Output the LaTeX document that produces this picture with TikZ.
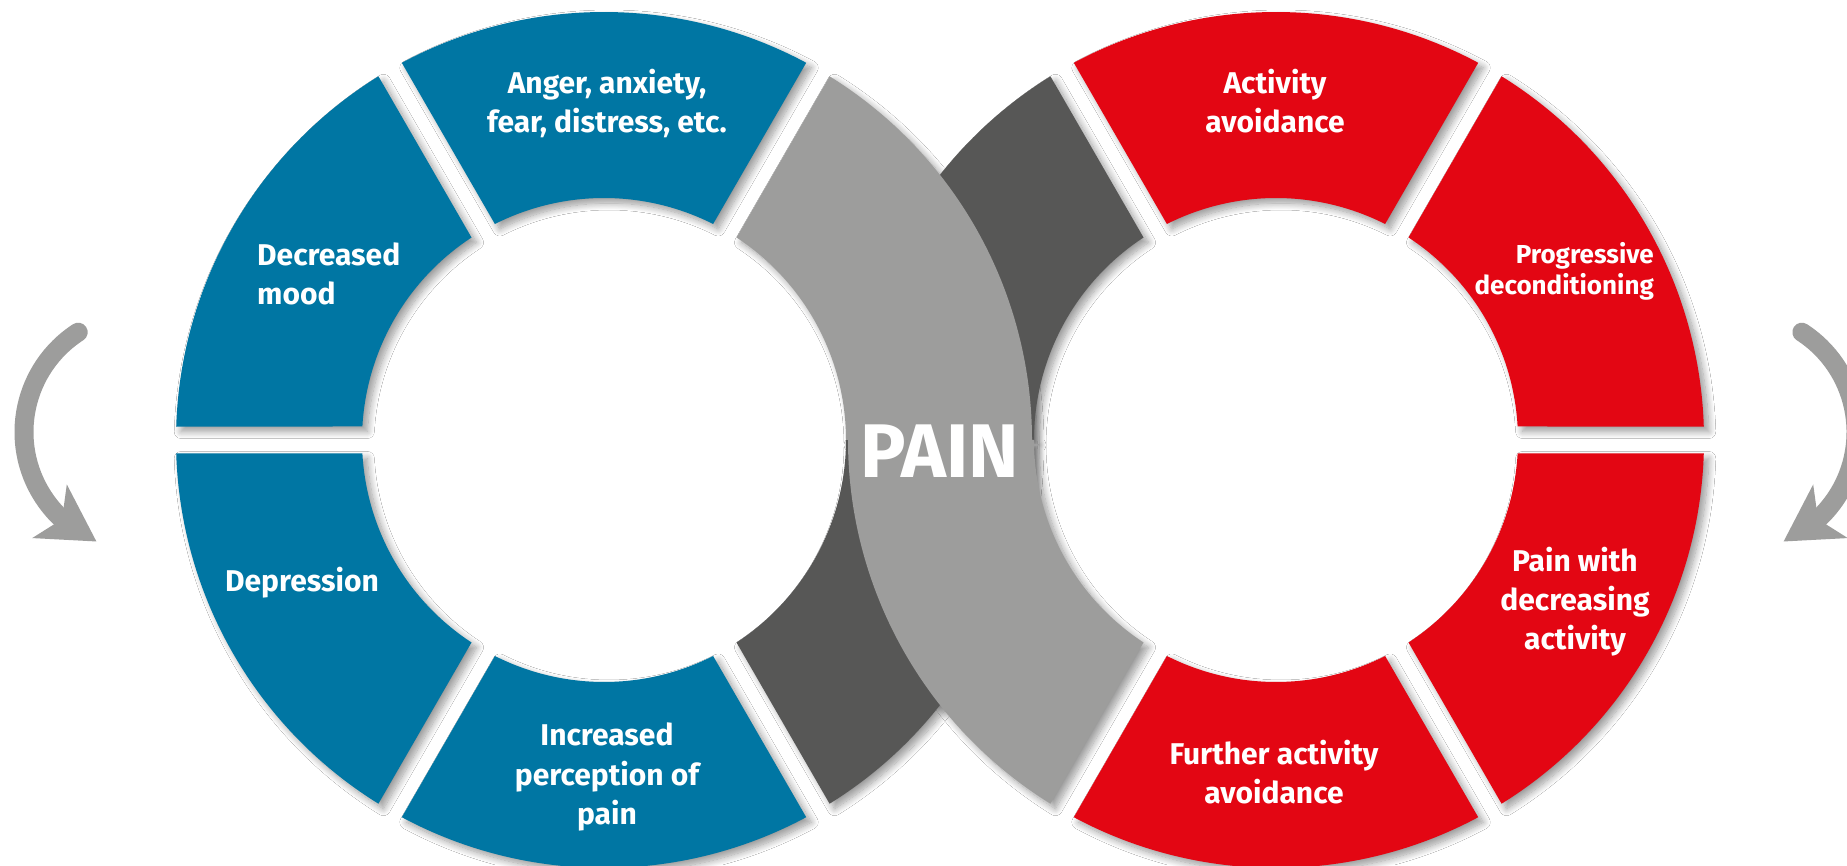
\documentclass[tikz,border=0pt]{standalone}
\usepackage{fontspec}
\setmainfont{Fira Sans}
\usetikzlibrary{arrows.meta,bending,shadows.blur}
\definecolor{pblue}{RGB}{0,118,163}
\definecolor{pred}{RGB}{227,6,19}
\definecolor{lgrey}{RGB}{157,157,156}
\definecolor{dgrey}{RGB}{87,87,86}
\newcommand\Ro{428}
\newcommand\Ri{242}
\newcommand\annseg[5]{([shift={#1}]#2:\Ro) arc[start angle=#2,end angle=#3,radius=\Ro] -- ([shift={#1}]#4:\Ri) arc[start angle=#4,end angle=#5,radius=\Ri] -- cycle}
\newcommand\ml[2]{\begin{tabular}[t]{@{}#1@{}}#2\end{tabular}}
% segment paths
\newcommand\Pdark{\annseg{(1276,425)}{121.8075}{180}{180}{123.198} \annseg{(604,425)}{301.8075}{360}{360}{303.198}}
\newcommand\Plight{\annseg{(604,425)}{0}{58.1925}{56.802}{0} \annseg{(1276,425)}{180}{238.1925}{236.802}{180}}
\newcommand\Panger{\annseg{(604,425)}{61.8075}{118.1925}{116.802}{63.198}}
\newcommand\Pmood{\annseg{(604,425)}{121.8075}{178.1925}{176.802}{123.198}}
\newcommand\Pdepr{\annseg{(604,425)}{181.8075}{238.1925}{236.802}{183.198}}
\newcommand\Pincr{\annseg{(604,425)}{241.8075}{298.1925}{296.802}{243.198}}
\newcommand\Pact{\annseg{(1276,425)}{61.8075}{118.1925}{116.802}{63.198}}
\newcommand\Pprog{\annseg{(1276,425)}{1.8075}{58.1925}{56.802}{3.198}}
\newcommand\Ppwd{\annseg{(1276,425)}{-58.1925}{-1.8075}{-3.198}{-56.802}}
\newcommand\Pfur{\annseg{(1276,425)}{241.8075}{298.1925}{296.802}{243.198}}
\tikzset{
  segshadow/.style={blur shadow={shadow xshift=5pt, shadow yshift=-5pt, shadow blur radius=7pt, shadow blur steps=12, shadow opacity=40}},
  lbl/.style={text=white, font=\bfseries\fontsize{30}{39}\selectfont, inner sep=0pt, anchor=base},
  cycarrow/.style={draw=lgrey, line width=19pt, line cap=round, -{Stealth[length=55pt,width=62pt,inset=14pt]}},
}
\begin{document}
\begin{tikzpicture}[x=1pt,y=1pt]
\useasboundingbox (0,0) rectangle (1847,865);
\fill[white] (0,0) rectangle (1847,865);
% shadows
\path[segshadow] \Pdark;
\path[segshadow] \Plight;
\path[segshadow] \Panger;
\path[segshadow] \Pmood;
\path[segshadow] \Pdepr;
\path[segshadow] \Pincr;
\path[segshadow] \Pact;
\path[segshadow] \Pprog;
\path[segshadow] \Ppwd;
\path[segshadow] \Pfur;
% fills
\fill[dgrey] \Pdark;
\fill[lgrey] \Plight;
\fill[pblue] \Panger;
\fill[pblue] \Pmood;
\fill[pblue] \Pdepr;
\fill[pblue] \Pincr;
\fill[pred] \Pact;
\fill[pred] \Pprog;
\fill[pred] \Ppwd;
\fill[pred] \Pfur;
% arrows
\draw[cycarrow] (143,433) ++(123:119) arc[start angle=123, end angle=247, radius=119];
\draw[cycarrow] (1737,433) ++(57:119) arc[start angle=57, end angle=-67, radius=119];
% labels
\node[lbl] (anger) at (607,771) {\ml{c}{Anger, anxiety,\\fear, distress, etc.}};
\node[lbl, anchor=base west] (mood) at (257,599) {\ml{l}{Decreased\\mood}};
\node[lbl] (depr) at (302,273) {Depression};
\node[lbl] (incr) at (607,119) {\ml{c}{Increased\\perception of\\pain}};
\node[lbl] (act) at (1275,771) {\ml{c}{Activity\\avoidance}};
\node[lbl, anchor=base east, font=\bfseries\fontsize{26}{30}\selectfont] (prog) at (1654,601) {\ml{r}{Progressive\\deconditioning}};
\node[lbl] (pwd) at (1575,293) {\ml{c}{Pain with\\decreasing\\activity}};
\node[lbl] (fur) at (1274,101) {\ml{c}{Further activity\\avoidance}};
\node[lbl, font=\bfseries\fontsize{76}{84}\selectfont] (pain) at (940,387) {PAIN};
\end{tikzpicture}
\end{document}
